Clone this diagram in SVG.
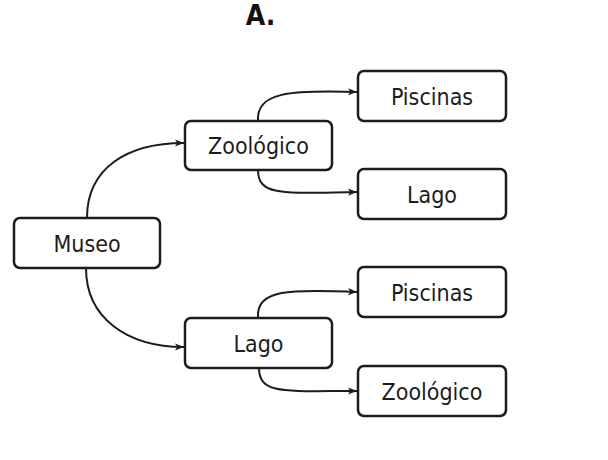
<svg xmlns="http://www.w3.org/2000/svg" width="608" height="460" viewBox="0 0 608 460">
  <style>
    .box { fill: #ffffff; stroke: #1c1c1c; stroke-width: 2.5; }
    .lbl { font-family: "DejaVu Sans Condensed", "DejaVu Sans", sans-serif; font-stretch: condensed; font-size: 23px; fill: #1c1c1c; text-anchor: middle; }
    .title { font-family: "DejaVu Sans Condensed", "DejaVu Sans", sans-serif; font-stretch: condensed; font-weight: bold; font-size: 28px; fill: #111111; text-anchor: middle; }
    .edge { fill: none; stroke: #1c1c1c; stroke-width: 2; marker-end: url(#arrow); }
  </style>
  <defs>
    <marker id="arrow" viewBox="0 0 10 10" refX="10" refY="5" markerWidth="9" markerHeight="9" markerUnits="userSpaceOnUse" orient="auto">
      <path d="M0,1 L10,5 L0,9 L2.5,5 z" fill="#1c1c1c"/>
    </marker>
  </defs>
  <rect width="608" height="460" fill="#ffffff"/>
  <text class="title" x="260.5" y="25">A.</text>

  <g id="connectors">
    <path class="edge" d="M87,218 C87,168 127,143 184,143"/>
    <path class="edge" d="M86,268 C86,318 127,347 184,347"/>
    <path class="edge" d="M258,121 C256,92 290,90 357,92"/>
    <path class="edge" d="M258,170 C258,197 285,193 357,192"/>
    <path class="edge" d="M258,318 C256,289 290,289 357,292"/>
    <path class="edge" d="M259,368 C259,395 285,391 357,391"/>
  </g>

  <g id="museo">
    <rect class="box" x="14" y="218" width="146" height="50" rx="6"/>
    <text class="lbl" x="87" y="252">Museo</text>
  </g>
  <g id="zoologico1">
    <rect class="box" x="185" y="121" width="147" height="49" rx="6"/>
    <text class="lbl" x="258.5" y="154">Zoológico</text>
  </g>
  <g id="piscinas1">
    <rect class="box" x="358" y="71" width="148" height="50" rx="6"/>
    <text class="lbl" x="432" y="104.5">Piscinas</text>
  </g>
  <g id="lago1">
    <rect class="box" x="358" y="169" width="148" height="50" rx="6"/>
    <text class="lbl" x="432" y="202.5">Lago</text>
  </g>
  <g id="lago2">
    <rect class="box" x="185" y="318" width="147" height="50" rx="6"/>
    <text class="lbl" x="258.5" y="351.5">Lago</text>
  </g>
  <g id="piscinas2">
    <rect class="box" x="358" y="267" width="148" height="50" rx="6"/>
    <text class="lbl" x="432" y="300.5">Piscinas</text>
  </g>
  <g id="zoologico2">
    <rect class="box" x="358" y="366" width="148" height="50" rx="6"/>
    <text class="lbl" x="432" y="399.5">Zoológico</text>
  </g>
</svg>
